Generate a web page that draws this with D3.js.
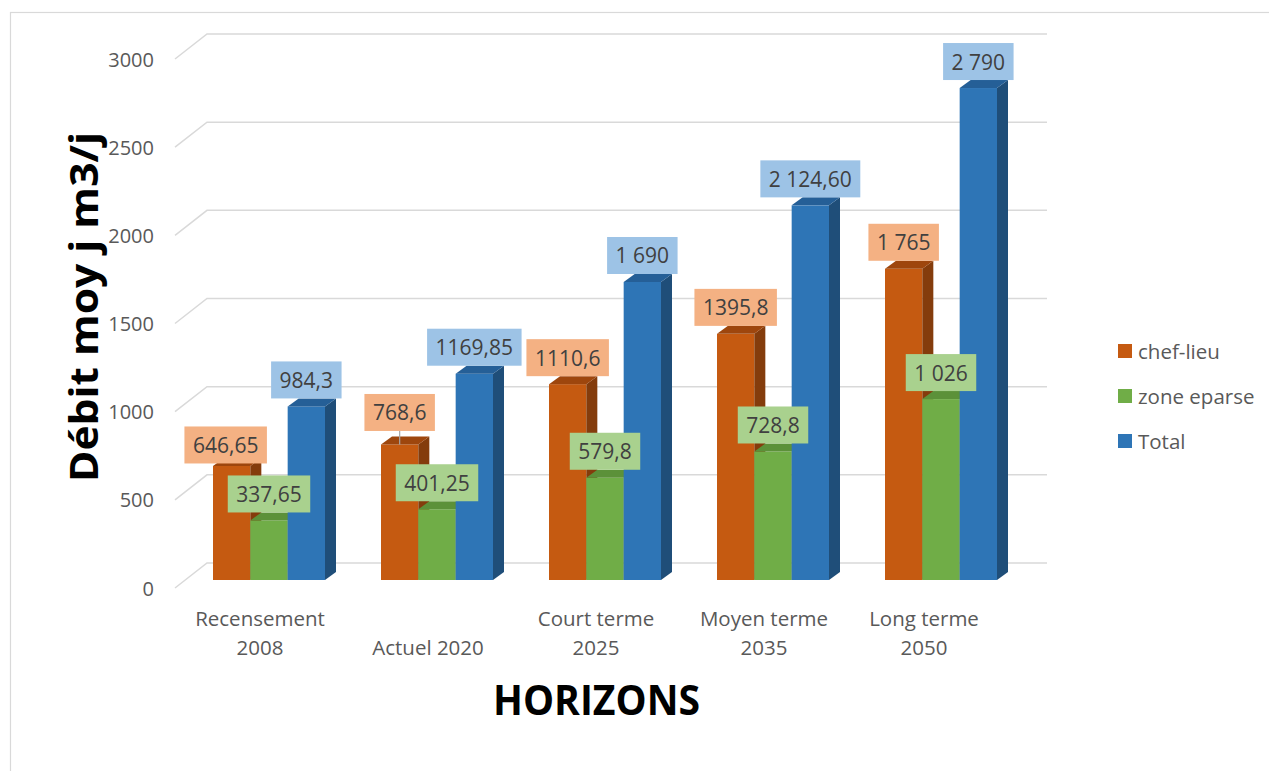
<!DOCTYPE html>
<html>
<head>
<meta charset="utf-8">
<script src="https://cdn.jsdelivr.net/npm/d3@7"></script>
<style>
  html, body { margin: 0; padding: 0; background: #fff; }
  svg { display: block; }
  text { font-family: "Open Sans", "Noto Sans", sans-serif; }
</style>
</head>
<body>
<svg id="chart" width="1269" height="771"></svg>
<script>
// ---------- DATA ----------
const categories = ["Recensement\n2008", "Actuel 2020", "Court terme\n2025", "Moyen terme\n2035", "Long terme\n2050"];
const seriesNames = ["chef-lieu", "zone eparse", "Total"];
const chefLieu   = [646.65, 768.6, 1110.6, 1395.8, 1765];
const zoneEparse = [337.65, 401.25, 579.8, 728.8, 1026];
const total      = [984.3, 1169.85, 1690, 2124.6, 2790];
const chefLieuLabels   = ["646,65", "768,6", "1110,6", "1395,8", "1 765"];
const zoneEparseLabels = ["337,65", "401,25", "579,8", "728,8", "1 026"];
const totalLabels      = ["984,3", "1169,85", "1 690", "2 124,60", "2 790"];
const yTicks = [0, 500, 1000, 1500, 2000, 2500, 3000];
const yTitle = "Débit moy j m3/j";
const xTitle = "HORIZONS";

// ---------- STYLE ----------
const front = ["#C55A11", "#70AD47", "#2E75B6"];
const side  = ["#843C0C", "#4E7A31", "#1F4E79"];
const top_  = ["#9E460D", "#5C9139", "#255F97"];
const labelFill = ["#F4B183", "#A9D18E", "#9DC3E6"];

const series = [
  { name: seriesNames[0], values: chefLieu, labels: chefLieuLabels },
  { name: seriesNames[1], values: zoneEparse, labels: zoneEparseLabels },
  { name: seriesNames[2], values: total, labels: totalLabels }
];

const svg = d3.select("#chart");

// chart border
svg.append("rect").attr("x", 10.5).attr("y", 12.5).attr("width", 1300).attr("height", 800)
  .attr("fill", "none").attr("stroke", "#D9D9D9").attr("stroke-width", 1.2);

// ---------- SCALES ----------
const depthX = 32, depthY = 25;       // floor depth of the 3-D box
const barDX = 11, barDY = 8;          // bar depth
const yBack = d3.scaleLinear().domain([0, 3000]).range([563, 34]);
const yBar  = d3.scaleLinear().domain([0, 3000]).range([580, 51]);
const x0 = d3.scaleBand().domain(d3.range(categories.length)).range([185, 1025])
  .paddingInner(1/3).paddingOuter(1/6);
const x1 = d3.scaleBand().domain(d3.range(series.length)).range([0, x0.bandwidth()]);

// ---------- GRID ----------
const grid = svg.append("g");
const backLeft = 207, backRight = 1047;
yTicks.forEach(t => {
  const y = yBack(t);
  grid.append("path")
    .attr("d", `M${backLeft - depthX},${y + depthY}L${backLeft},${y}L${backRight},${y}`)
    .attr("fill", "none").attr("stroke", "#D9D9D9").attr("stroke-width", 1.5);
  grid.append("text")
    .attr("x", 154).attr("y", y + depthY)
    .attr("text-anchor", "end").attr("dominant-baseline", "central")
    .attr("font-size", 20).attr("fill", "#595959")
    .text(t);
});

// ---------- BARS ----------
const bars = svg.append("g");
categories.forEach((c, i) => {
  series.forEach((s, j) => {
    const x = x0(i) + x1(j), w = x1.bandwidth();
    const yt = yBar(s.values[i]), yb = yBar(0);
    const g = bars.append("g");
    g.append("rect").attr("x", x).attr("y", yt).attr("width", w).attr("height", yb - yt)
      .attr("fill", front[j]);
    g.append("path")
      .attr("d", `M${x + w},${yt}L${x + w + barDX},${yt - barDY}L${x + w + barDX},${yb - barDY}L${x + w},${yb}Z`)
      .attr("fill", side[j]);
    g.append("path")
      .attr("d", `M${x},${yt}L${x + barDX},${yt - barDY}L${x + w + barDX},${yt - barDY}L${x + w},${yt}Z`)
      .attr("fill", top_[j]);
  });
});

// ---------- DATA LABELS ----------
// manual nudges as in the original (moved labels)
const nudges = { "0-0": { dx: -6, dy: 5.5 }, "0-1": { dx: 0, dy: -5.5, leader: true } };
const labels = svg.append("g");
series.forEach((s, j) => {
  categories.forEach((c, i) => {
    const n = nudges[j + "-" + i] || { dx: 0, dy: 0 };
    const cx = x0(i) + x1(j) + x1.bandwidth() / 2 + n.dx;
    const barTop = yBar(s.values[i]);
    const bottom = barTop - barDY + n.dy;
    const g = labels.append("g");
    const t = g.append("text")
      .attr("x", cx).attr("y", bottom - 18.5)
      .attr("text-anchor", "middle").attr("dominant-baseline", "central")
      .attr("font-size", 21).attr("fill", "#404040")
      .text(s.labels[i]);
    const tw = t.node().getComputedTextLength();
    const bw = tw + 17;
    g.insert("rect", "text")
      .attr("x", cx - bw / 2).attr("y", bottom - 37).attr("width", bw).attr("height", 37)
      .attr("fill", labelFill[j]);
    if (n.leader) {
      g.append("line").attr("x1", cx).attr("x2", cx).attr("y1", bottom).attr("y2", barTop)
        .attr("stroke", "#A6A6A6").attr("stroke-width", 1.2);
    }
  });
});

// ---------- CATEGORY LABELS ----------
const catNudge = [0, 0, 0, 0, -8];
categories.forEach((c, i) => {
  const lines = c.split("\n");
  const cx = x0(i) + x0.bandwidth() / 2 - 9 + catNudge[i];
  lines.forEach((ln, k) => {
    svg.append("text")
      .attr("x", cx).attr("y", 655 - (lines.length - 1 - k) * 29)
      .attr("text-anchor", "middle").attr("font-size", 20.5).attr("fill", "#595959")
      .text(ln);
  });
});

// ---------- LEGEND ----------
const legend = svg.append("g");
series.forEach((s, j) => {
  const cy = 351 + j * 45;
  legend.append("rect").attr("x", 1118).attr("y", cy - 7).attr("width", 14).attr("height", 14)
    .attr("fill", front[j]);
  legend.append("text").attr("x", 1138).attr("y", cy).attr("dominant-baseline", "central")
    .attr("font-size", 20.5).attr("fill", "#595959").text(s.name);
});

// ---------- TITLES ----------
svg.append("text")
  .attr("transform", "translate(98,307) rotate(-90)")
  .attr("text-anchor", "middle").attr("font-weight", "bold").attr("font-size", 39)
  .attr("textLength", 350).attr("lengthAdjust", "spacingAndGlyphs")
  .attr("fill", "#000").text(yTitle);
svg.append("text")
  .attr("x", 596.5).attr("y", 715)
  .attr("text-anchor", "middle").attr("font-weight", "bold").attr("font-size", 42)
  .attr("textLength", 207).attr("lengthAdjust", "spacingAndGlyphs")
  .attr("fill", "#000").text(xTitle);
</script>
</body>
</html>
